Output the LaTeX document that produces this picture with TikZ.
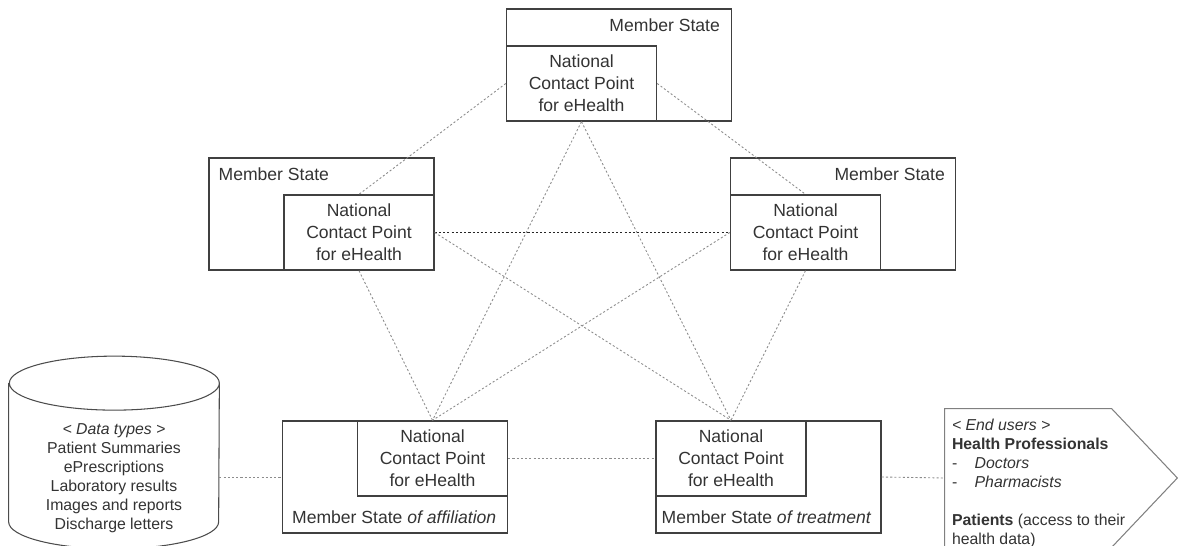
\documentclass[tikz,border=0pt]{standalone}
\usepackage{fontspec}
\setmainfont{Liberation Sans}
\usetikzlibrary{shapes.geometric, positioning}

\begin{document}
\begin{tikzpicture}[
    state/.style={rectangle, draw=black!75, line width=0.8pt, minimum width=4.5cm, minimum height=2.24cm, inner sep=0pt},
    ncp/.style={rectangle, draw=black!75, line width=0.8pt, minimum width=3cm, minimum height=1.5cm, align=center, inner sep=0pt, font=\fontsize{10}{12.5}\selectfont, text=black!80},
    statelabel/.style={inner sep=0pt, text depth=0pt, font=\fontsize{10}{12}\selectfont, text=black!80},
    link/.style={draw=black!45, line width=0.5pt, dash pattern=on 1.2pt off 1.2pt},
    darklink/.style={link, draw=black!85},
    store/.style={rectangle, minimum width=4.2cm, minimum height=2.22cm, inner sep=0pt},
    storeline/.style={draw=black!70, line width=0.6pt},
    storetext/.style={inner sep=0pt, align=center, font=\fontsize{9}{10.8}\selectfont, text=black!80},
    usersframe/.style={rectangle, minimum width=4.64cm, minimum height=2.76cm, inner sep=0pt},
    userstext/.style={inner sep=0pt, align=left, font=\fontsize{9}{10.8}\selectfont, text=black!80}
]
\useasboundingbox (0,0) rectangle (23.56,10.92);

% Member States and their contact points
\node[state] (mstop) at (12.38,9.62) {};
\node[ncp, above right=0pt and 0pt of mstop.south west] (ncptop) {National\\Contact Point\\for eHealth};
\node[statelabel, below left=0.2cm and 0.24cm of mstop.north east] {Member State};

\node[state] (msleft) at (6.43,6.64) {};
\node[ncp, above left=0pt and 0pt of msleft.south east] (ncpleft) {National\\Contact Point\\for eHealth};
\node[statelabel, below right=0.2cm and 0.2cm of msleft.north west] {Member State};

\node[state] (msright) at (16.86,6.64) {};
\node[ncp, above right=0pt and 0pt of msright.south west] (ncpright) {National\\Contact Point\\for eHealth};
\node[statelabel, below left=0.2cm and 0.22cm of msright.north east] {Member State};

\node[state] (msaff) at (7.90,1.38) {};
\node[ncp, below left=0pt and 0pt of msaff.north east] (ncpaff) {National\\Contact Point\\for eHealth};
\node[statelabel, above right=0.2cm and 0.2cm of msaff.south west] {Member State \textit{of affiliation}};

\node[state] (mstreat) at (15.37,1.38) {};
\node[ncp, below right=0pt and 0pt of mstreat.north west] (ncptreat) {National\\Contact Point\\for eHealth};
\node[statelabel, above left=0.2cm and 0.2cm of mstreat.south east] {Member State \textit{of treatment}};

% Data types (database cylinder)
\node[store] (data) at (2.28,1.6) {};
\draw[storeline] ([yshift=0.54cm]data.north west) -- (data.south west)
    arc[start angle=180, end angle=360, x radius=2.1cm, y radius=0.54cm]
    -- ([yshift=0.54cm]data.north east)
    arc[start angle=0, end angle=360, x radius=2.1cm, y radius=0.54cm];
\node[storetext, below=0.26cm of data.north] (datatypes) {\textit{< Data types >}\\Patient Summaries\\ePrescriptions\\Laboratory results\\Images and reports\\Discharge letters};

% End users (arrow-shaped box)
\node[usersframe] (usersbox) at (21.22,1.36) {};
\draw[draw=black!50, line width=0.6pt] (usersbox.north west) -- ([xshift=3.34cm]usersbox.north west)
    -- (usersbox.east) -- ([xshift=3.34cm]usersbox.south west) -- (usersbox.south west) -- cycle;
\node[userstext, below right=0.2cm and 0.14cm of usersbox.north west] (users) {%
    \textit{< End users >}\\
    \textbf{Health Professionals}\\
    -\hspace{1.1em}\textit{Doctors}\\
    -\hspace{1.1em}\textit{Pharmacists}\\[10.8pt]
    \textbf{Patients} (access to their\\
    health data)};

% Links between contact points
\draw[link] (ncptop.west) -- (ncpleft.north);
\draw[link] (ncptop.east) -- (ncpright.north);
\draw[link] (ncptop.south) -- (ncpaff.north);
\draw[link] (ncptop.south) -- (ncptreat.north);
\draw[darklink] (ncpleft.east) -- (ncpright.west);
\draw[link] (ncpleft.east) -- (ncptreat.north);
\draw[link] (ncpleft.south) -- (ncpaff.north);
\draw[link] (ncpright.west) -- (ncpaff.north);
\draw[link] (ncpright.south) -- (ncptreat.north);
\draw[link] (ncpaff.east) -- (ncptreat.west);
\draw[link] (data.east |- msaff.west) -- (msaff.west);
\draw[link] (mstreat.east) -- (usersbox.west);
\end{tikzpicture}
\end{document}
